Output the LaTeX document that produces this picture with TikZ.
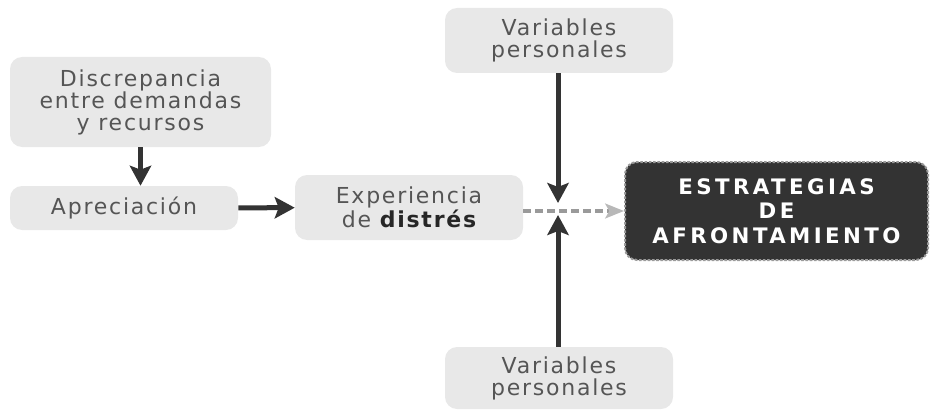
\documentclass[tikz,border=0pt]{standalone}
\usepackage{fontspec}
\setmainfont[LetterSpace=8]{DejaVu Sans}
\usetikzlibrary{shapes.misc, positioning, arrows.meta, calc}
\definecolor{boxgray}{HTML}{E8E8E8}
\definecolor{txtgray}{HTML}{555555}
\definecolor{darkbox}{HTML}{333333}
\definecolor{arrowgray}{HTML}{333333}
\definecolor{dashgray}{HTML}{9A9A9A}
\begin{document}
\begin{tikzpicture}[x=0.75pt, y=-0.75pt, >={Stealth[length=15pt, width=16pt, inset=3pt]}, font=\fontsize{16.5}{16.5}\selectfont]
\tikzset{box/.style={fill=boxgray, rounded corners=9pt, text=txtgray, align=center, inner sep=0pt}, dark/.style={fill=darkbox, draw=dashgray, dash pattern=on 2pt off 1.2pt, line width=1.5pt, rounded corners=9pt, text=white, align=center, font=\fontsize{16}{18.4}\selectfont\bfseries\addfontfeature{LetterSpace=16}}, flow/.style={draw=arrowgray, line width=3.75pt, ->}, dashflow/.style={draw=dashgray, line width=3pt, dash pattern=on 6pt off 3pt, -{Stealth[length=14pt, width=11pt, inset=3pt, color=dashgray!70, fill=dashgray!70]}}}
\useasboundingbox (0,0) rectangle (931,410);
% cajas
\node[box, minimum width=195.75pt, minimum height=67.5pt] (disc) at (140.5,102) {Discrepancia\\entre demandas\\y recursos};
\node[box, minimum width=171pt, minimum height=33pt] (aprec) at (124,208) {Apreciación};
\node[box, minimum width=171pt, minimum height=48.75pt] (exp) at (409,207.5) {Experiencia\\de {\color{black!85}\bfseries distrés}};
\node[box, minimum width=171pt, minimum height=48.75pt] (varN) at (559,40.5) {Variables\\personales};
\node[box, minimum width=171pt, minimum height=46.5pt] (varS) at (559,378) {Variables\\personales};
\node[dark, minimum width=227.25pt, minimum height=73.5pt] (estr) at (776.5,211) {ESTRATEGIAS\\DE\\AFRONTAMIENTO};
\coordinate (meetN) at (558,203);
\coordinate (meetS) at (558,215);
% flechas
\draw[flow] (disc.south) -- (disc.south |- aprec.north);
\draw[flow] (aprec) -- (exp);
\draw[dashflow] (exp.east |- estr.west) -- (estr.west);
\draw[flow] (varN.south -| meetN) -- (meetN);
\draw[flow] (varS.north -| meetS) -- (meetS);
\end{tikzpicture}
\end{document}
